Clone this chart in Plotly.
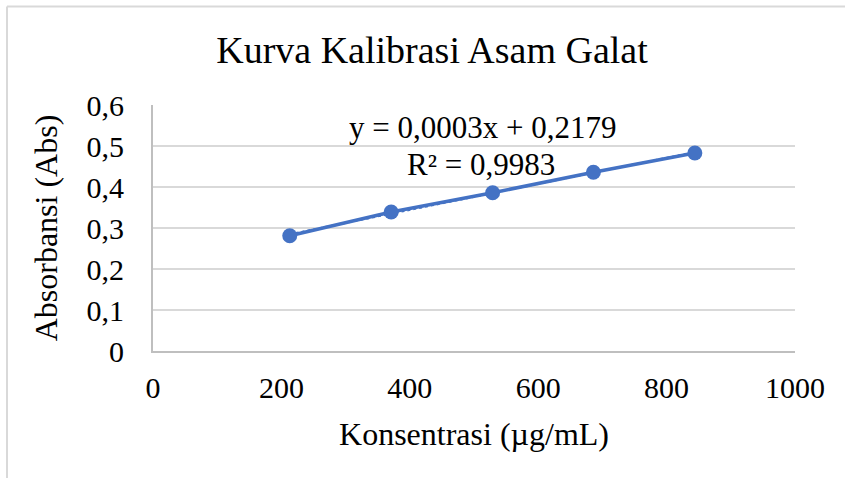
import numpy as np
import plotly.graph_objects as go

konsentrasi = [213, 371, 529, 686, 844]
absorbansi = [0.281, 0.339, 0.386, 0.436, 0.483]
x_ticks = [0, 200, 400, 600, 800, 1000]
y_ticks = [0, 0.1, 0.2, 0.3, 0.4, 0.5, 0.6]
y_tick_labels = ["0", "0,1", "0,2", "0,3", "0,4", "0,5", "0,6"]
title_text = "Kurva Kalibrasi Asam Galat"
equation_text = "y = 0,0003x + 0,2179"
r2_text = "R² = 0,9983"

BLUE = "#4472C4"
FONT = "Liberation Serif"

slope, intercept = np.polyfit(konsentrasi, absorbansi, 1)
trend_x = [min(konsentrasi), max(konsentrasi)]
trend_y = [slope * v + intercept for v in trend_x]

fig = go.Figure()
fig.add_trace(go.Scatter(x=trend_x, y=trend_y, mode="lines",
                         line=dict(color=BLUE, width=2, dash="dot"),
                         hoverinfo="skip", showlegend=False))
fig.add_trace(go.Scatter(x=konsentrasi, y=absorbansi, mode="lines+markers",
                         line=dict(color=BLUE, width=3.5),
                         marker=dict(color=BLUE, size=15),
                         showlegend=False))

fig.add_annotation(x=514, y=0.545, xref="x", yref="y", text=equation_text,
                   showarrow=False, borderpad=0,
                   font=dict(family=FONT, size=31, color="#000"))
fig.add_annotation(x=511, y=0.456, xref="x", yref="y", text=r2_text,
                   showarrow=False, borderpad=0,
                   font=dict(family=FONT, size=31, color="#000"))

# outer chart border (top & left visible)
L, T, W, H = 153, 105, 642, 246
def px(x):
    return (x - L) / W
def py(y):
    return (T + H - y) / H
fig.add_shape(type="line", xref="paper", yref="paper", x0=px(7), x1=px(850),
              y0=py(6.5), y1=py(6.5), line=dict(color="#d9d9d9", width=2))
fig.add_shape(type="line", xref="paper", yref="paper", x0=px(7), x1=px(7),
              y0=py(6.5), y1=py(485), line=dict(color="#d9d9d9", width=2))

fig.update_layout(
    width=845, height=478,
    margin=dict(l=L, r=845 - L - W, t=T, b=478 - T - H, autoexpand=False),
    paper_bgcolor="white", plot_bgcolor="white",
    title=dict(text=title_text, x=(432) / 845, xanchor="center",
               y=1 - 50 / 478, yanchor="middle",
               font=dict(family=FONT, size=38, color="#000")),
    font=dict(family=FONT, color="#000"),
)
fig.update_xaxes(range=[0, 1000], tickvals=x_ticks,
                 ticktext=[str(v) for v in x_ticks], automargin=False,
                 showgrid=False, zeroline=False,
                 showline=True, linecolor="#bfbfbf", linewidth=2,
                 ticks="", ticklabelstandoff=9,
                 tickfont=dict(family=FONT, size=30, color="#000"),
                 title=dict(text="Konsentrasi (µg/mL)", standoff=20,
                            font=dict(family=FONT, size=32, color="#000")))
fig.update_yaxes(range=[0, 0.6], tickvals=y_ticks, ticktext=y_tick_labels,
                 automargin=False,
                 showgrid=True, gridcolor="#d9d9d9", gridwidth=2,
                 zeroline=False,
                 showline=True, linecolor="#bfbfbf", linewidth=2,
                 ticks="", ticklabelstandoff=21,
                 tickfont=dict(family=FONT, size=30, color="#000"),
                 title=dict(text="Absorbansi (Abs)", standoff=19,
                            font=dict(family=FONT, size=32, color="#000")))

fig.write_html("out.html", config={"displayModeBar": False},
               post_script="document.body.style.margin='0';document.body.style.overflow='hidden';")
